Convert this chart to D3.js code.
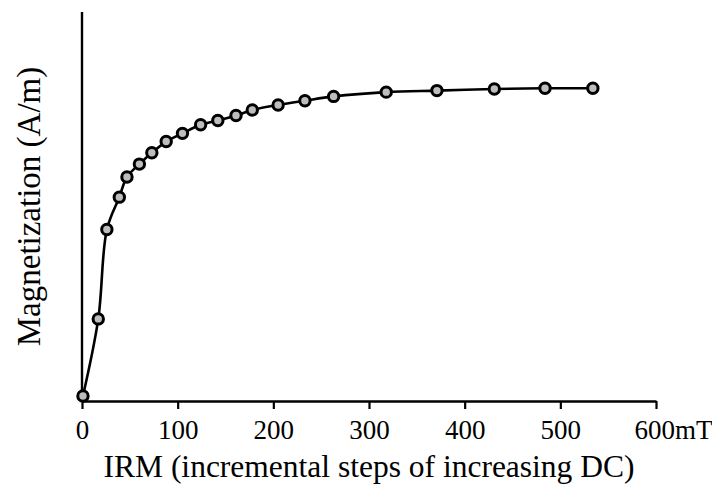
<!DOCTYPE html>
<html>
<head>
<meta charset="utf-8">
<script src="https://cdn.jsdelivr.net/npm/d3@7"></script>
<style>
  body { margin: 0; background: #fff; }
  svg { display: block; font-family: "Liberation Serif", "Times New Roman", serif; }
</style>
</head>
<body>
<svg id="chart"></svg>
<script>
// field steps (mT) and magnetization (arbitrary units)
const fields = [1, 17, 26, 39, 47, 60, 73, 88, 105, 124, 142, 161, 178, 205, 233, 263, 318, 371, 431, 484, 534]
const magnetization = [1.3, 21.1, 44.1, 52.4, 57.6, 60.9, 63.8, 66.7, 68.8, 71.0, 72.1, 73.4, 74.8, 76.1, 77.2, 78.3, 79.4, 79.8, 80.2, 80.4, 80.4]
const xTicks = [0, 100, 200, 300, 400, 500, 600]

const width = 712, height = 485
const margin = {left: 82, right: 56, top: 12, bottom: 84}

const svg = d3.select('#chart')
  .attr('width', width)
  .attr('height', height)

const x = d3.scaleLinear().domain([0, 600]).range([margin.left, width - margin.right])
const y = d3.scaleLinear().domain([0, 100]).range([height - margin.bottom, margin.top])

const data = fields.map((f, i) => ({f, m: magnetization[i]}))

// x axis
const xAxis = svg.append('g')
  .attr('transform', `translate(0,${y(0)})`)
  .call(d3.axisBottom(x).tickValues(xTicks).tickSize(8).tickSizeOuter(0).tickPadding(11))

xAxis.select('.domain').attr('stroke', '#000').attr('stroke-width', 2.4)
xAxis.selectAll('.tick line').attr('stroke', '#000').attr('stroke-width', 2.2)
xAxis.selectAll('.tick text')
  .attr('fill', '#000')
  .attr('font-size', 27)
  .attr('font-family', '"Liberation Serif", serif')
xAxis.selectAll('.tick text').filter(d => d === 600)
  .text('600mT')
  .attr('text-anchor', 'start')
  .attr('dx', -22)

// y axis, line only
svg.append('line')
  .attr('x1', x(0)).attr('x2', x(0))
  .attr('y1', y(100)).attr('y2', y(0) + 1)
  .attr('stroke', '#000')
  .attr('stroke-width', 2.4)

// curve
const line = d3.line()
  .x(d => x(d.f))
  .y(d => y(d.m))
  .curve(d3.curveCatmullRom.alpha(0.5))

svg.append('path')
  .datum(data)
  .attr('d', line)
  .attr('fill', 'none')
  .attr('stroke', '#000')
  .attr('stroke-width', 2.6)

svg.append('g')
  .selectAll('circle')
  .data(data)
  .enter().append('circle')
  .attr('cx', d => x(d.f))
  .attr('cy', d => y(d.m))
  .attr('r', 5.2)
  .attr('fill', '#bdbdbd')
  .attr('stroke', '#000')
  .attr('stroke-width', 3)

// axis titles
svg.append('text')
  .attr('x', (x(0) + x(600)) / 2)
  .attr('y', 477)
  .attr('text-anchor', 'middle')
  .attr('font-size', 31.5)
  .text('IRM (incremental steps of increasing DC)')

svg.append('text')
  .attr('transform', `translate(40,${(y(0) + y(100)) / 2}) rotate(-90)`)
  .attr('text-anchor', 'middle')
  .attr('font-size', 33)
  .text('Magnetization (A/m)')
</script>
</body>
</html>
